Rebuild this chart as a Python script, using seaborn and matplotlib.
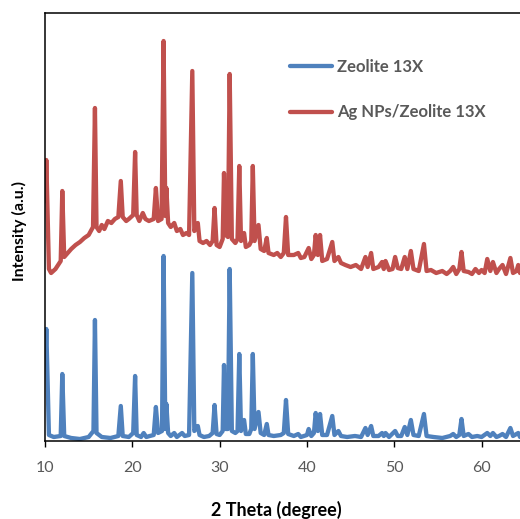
import numpy as np
import pandas as pd
import matplotlib
matplotlib.use("Agg")
import matplotlib.pyplot as plt
import seaborn as sns

# Traces (2theta in degrees, intensity in arbitrary units)
zeolite_theta = [10.05, 10.15, 10.45, 11.0, 11.8, 11.98, 12.2, 13.0, 14.0, 15.0, 15.55, 15.72, 15.9, 16.5, 17.5,
                 18.4, 18.68, 18.9, 19.6, 20.1, 20.32, 20.5, 21.0, 21.3, 21.6, 22.0, 22.45, 22.7, 22.95, 23.4,
                 23.58, 23.78, 23.9, 24.1, 24.4, 24.8, 25.1, 25.7, 26.0, 26.5, 26.87, 27.1, 27.5, 27.7, 28.2,
                 28.8, 29.2, 29.42, 29.65, 30.0, 30.35, 30.5, 30.7, 30.95, 31.15, 31.4, 31.8, 32.05, 32.25, 32.45,
                 32.8, 33.0, 33.4, 33.62, 33.8, 34.0, 34.45, 34.7, 35.1, 35.4, 35.6, 36.2, 37.0, 37.35, 37.6,
                 37.85, 38.5, 39.0, 39.3, 40.0, 40.2, 40.5, 40.8, 41.0, 41.25, 41.5, 41.75, 42.3, 42.9, 43.15,
                 43.6, 43.9, 44.6, 45.5, 46.2, 46.7, 46.95, 47.35, 47.6, 48.2, 48.6, 48.8, 49.0, 49.4, 50.1,
                 50.4, 50.8, 51.2, 51.5, 51.9, 52.2, 52.8, 53.4, 53.7, 54.5, 55.5, 56.4, 56.75, 57.1, 57.45,
                 57.7, 57.95, 58.5, 58.9, 59.5, 60.0, 60.65, 61.0, 61.3, 61.7, 62.0, 62.4, 62.8, 63.3, 63.6,
                 64.2, 64.4]
zeolite_int = [80, 112, 6, 4, 5, 67, 5, 3, 2, 4, 10, 121, 8, 4, 3,
               5, 35, 5, 4, 8, 65, 6, 4, 8, 4, 5, 6, 34, 8, 10,
               185, 12, 37, 8, 5, 8, 4, 8, 5, 6, 168, 10, 15, 6, 4,
               5, 8, 36, 7, 6, 10, 76, 12, 12, 172, 10, 8, 10, 87, 10,
               21, 7, 7, 12, 87, 12, 29, 8, 6, 17, 6, 5, 6, 8, 41,
               7, 5, 7, 4, 6, 12, 5, 8, 28, 10, 27, 6, 6, 25, 6,
               10, 5, 4, 5, 4, 13, 6, 15, 5, 5, 8, 5, 8, 4, 10,
               5, 5, 14, 6, 21, 6, 5, 27, 5, 4, 3, 5, 7, 4, 6,
               22, 5, 7, 4, 5, 4, 8, 5, 8, 4, 5, 7, 4, 13, 5,
               8, 4]

ag_theta = [10.05, 10.15, 10.45, 10.7, 11.2, 11.8, 11.98, 12.2, 12.6, 13.0, 13.5, 14.0, 14.5, 15.0, 15.5,
            15.72, 15.9, 16.2, 16.5, 16.8, 17.2, 17.6, 18.0, 18.4, 18.68, 18.9, 19.3, 19.6, 20.1, 20.32,
            20.5, 20.8, 21.2, 21.5, 21.9, 22.45, 22.7, 22.95, 23.35, 23.58, 23.78, 23.9, 24.1, 24.4, 24.8,
            25.1, 25.5, 25.8, 26.2, 26.5, 26.87, 27.1, 27.5, 27.7, 28.1, 28.5, 28.9, 29.2, 29.42, 29.65,
            30.0, 30.35, 30.5, 30.7, 30.95, 31.15, 31.4, 31.8, 32.05, 32.25, 32.45, 32.8, 33.0, 33.4, 33.62,
            33.8, 34.0, 34.45, 34.7, 35.1, 35.4, 35.6, 36.2, 36.6, 37.0, 37.35, 37.6, 37.85, 38.5, 39.0,
            39.3, 39.7, 40.2, 40.5, 40.8, 41.0, 41.25, 41.5, 41.75, 42.3, 42.9, 43.15, 43.6, 43.9, 44.4,
            45.0, 45.6, 46.2, 46.7, 46.95, 47.35, 47.6, 48.2, 48.6, 48.8, 49.0, 49.4, 49.8, 50.1, 50.4,
            50.8, 51.2, 51.5, 51.9, 52.2, 52.8, 53.4, 53.7, 54.2, 54.8, 55.5, 56.0, 56.4, 56.75, 57.1,
            57.45, 57.7, 57.95, 58.5, 58.9, 59.3, 59.7, 60.0, 60.35, 60.65, 61.0, 61.3, 61.7, 62.0, 62.4,
            62.8, 63.3, 63.6, 64.0, 64.2, 64.4]
ag_int = [240, 281, 172, 168, 172, 180, 250, 184, 188, 192, 196, 199, 203, 206, 214,
          333, 214, 210, 216, 212, 220, 218, 222, 224, 260, 224, 220, 222, 226, 289,
          226, 220, 228, 222, 220, 222, 253, 220, 222, 400, 225, 253, 218, 214, 218,
          210, 212, 206, 208, 206, 370, 210, 218, 200, 198, 200, 196, 200, 233, 196,
          194, 202, 268, 206, 204, 367, 202, 198, 202, 275, 200, 208, 194, 196, 200,
          275, 200, 216, 192, 190, 203, 188, 186, 188, 184, 188, 224, 186, 186, 188,
          183, 184, 193, 182, 186, 206, 186, 206, 180, 182, 199, 180, 184, 178, 176,
          174, 176, 172, 184, 174, 188, 172, 174, 179, 172, 180, 171, 172, 184, 173,
          172, 184, 172, 190, 172, 170, 197, 170, 171, 168, 170, 167, 170, 174, 167,
          172, 189, 170, 169, 167, 172, 168, 171, 168, 182, 170, 179, 168, 172, 176,
          167, 183, 168, 170, 176, 168]

labels = ["Zeolite 13X", "Ag NPs/Zeolite 13X"]
colors = ["#4F81BD", "#C0504D"]
x_ticks = [10, 20, 30, 40, 50, 60]

df = pd.concat([
    pd.DataFrame({"theta": zeolite_theta, "intensity": zeolite_int, "sample": labels[0]}),
    pd.DataFrame({"theta": ag_theta, "intensity": ag_int, "sample": labels[1]}),
])

sns.set_style("white")
plt.rcParams["font.family"] = ["Lato", "DejaVu Sans"]

fig = plt.figure(figsize=(5.2, 5.19), dpi=100)
ax = fig.add_axes([45 / 520, 1 - 441 / 519, 1 - 45 / 520, 428 / 519])

sns.lineplot(data=df, x="theta", y="intensity", hue="sample", palette=colors,
             sort=False, linewidth=3.1, ax=ax)

ax.set_xlim(10, 64.4)
ax.set_ylim(0, 428)
ax.set_xticks(x_ticks)
ax.set_yticks([])
ax.tick_params(axis="x", direction="out", length=4.5, width=1, color="black",
               pad=10, labelsize=11.5, labelcolor="#595959", bottom=True)
for side in ["left", "bottom", "top"]:
    ax.spines[side].set_color("black")
    ax.spines[side].set_linewidth(1.1)
ax.spines["right"].set_visible(False)

ax.set_xlabel("2 Theta (degree)", fontsize=13, fontweight="bold", color="black")
ax.xaxis.set_label_coords(0.488, -0.14)
ax.xaxis.label.set_va("top")
ax.set_ylabel("Intensity (a.u.)", fontsize=11.5, fontweight="bold", color="black")
ax.yaxis.set_label_coords(-0.038, 0.49)

leg = ax.legend(loc="upper left", bbox_to_anchor=(0.516, 0.892), frameon=False,
                borderpad=0, borderaxespad=0, handlelength=2.5, handletextpad=0.3,
                labelspacing=1.75, prop={"size": 12, "weight": "bold"})
for t in leg.get_texts():
    t.set_color("#595959")

fig.savefig("out.png", dpi=100)
